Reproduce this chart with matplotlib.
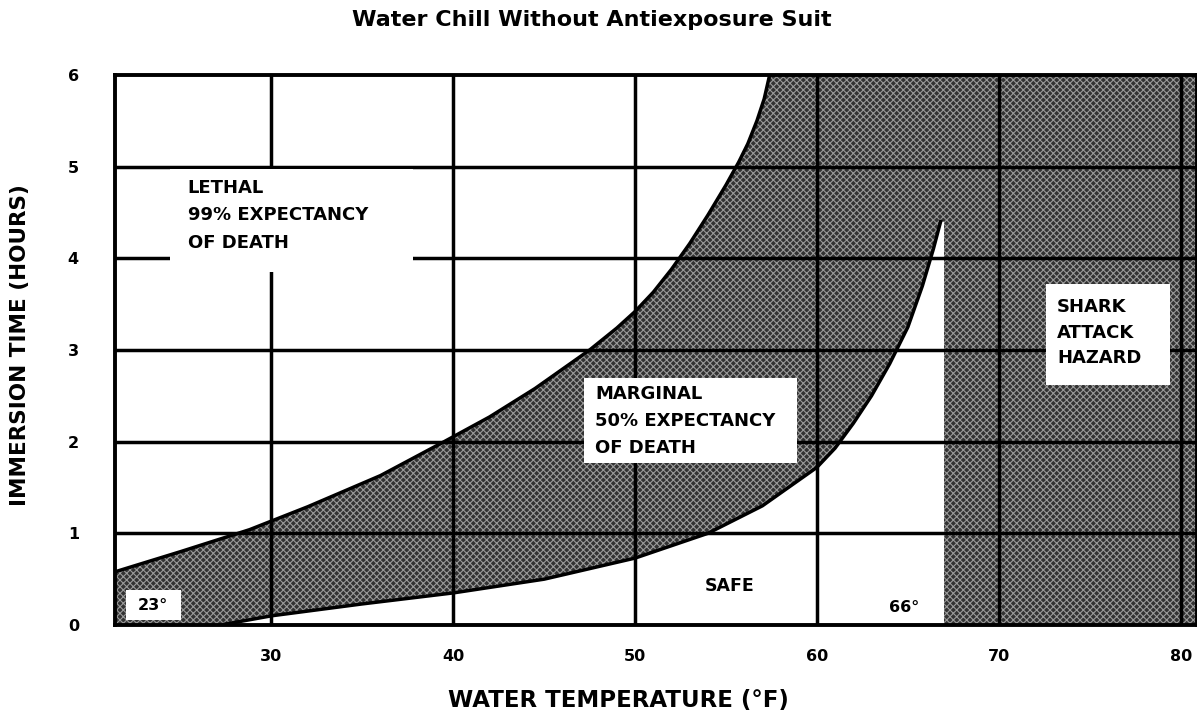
import matplotlib
matplotlib.use("Agg")
import matplotlib.pyplot as plt
import numpy as np
from matplotlib.patches import Rectangle

plt.rcParams['font.family'] = ['DejaVu Sans']
plt.rcParams['hatch.linewidth'] = 0.8

# --- data ---
x_ticks = [30, 40, 50, 60, 70, 80]
y_ticks = [0, 1, 2, 3, 4, 5, 6]

# Lethal boundary (upper-left curve): water temp (F) vs hours
lethal_temp = [21.4, 25, 28.8, 32, 36, 39.5, 42, 44.5, 47.5, 49, 50, 51, 52, 53, 54, 55,
               55.7, 56.2, 56.7, 57.1, 57.4]
lethal_hours = [0.58, 0.80, 1.04, 1.29, 1.63, 2.0, 2.27, 2.58, 3.0, 3.24, 3.42, 3.63, 3.88, 4.16,
                4.47, 4.8, 5.05, 5.25, 5.5, 5.74, 6.0]

# Marginal / safe boundary (lower-right curve)
safe_temp = [27.2, 30, 35, 40, 45, 50, 54, 57, 60, 61, 62, 63, 64, 65, 65.8, 66.4, 66.8]
safe_hours = [0.0, 0.10, 0.23, 0.35, 0.50, 0.73, 1.0, 1.3, 1.72, 1.93, 2.2, 2.5, 2.85, 3.25, 3.7, 4.1, 4.4]

shark_temp = 67.0
x_min, x_max = 21.4, 80.9
y_min, y_max = 0, 6

fig = plt.figure(figsize=(11.97, 7.18), dpi=100)
ax = fig.add_axes([115/1197, 93/718, 1082/1197, 550/718])
ax.set_xlim(x_min, x_max)
ax.set_ylim(y_min, y_max)

shade_face = '#333333'
shade_hatch = '#9a9a9a'

# marginal region polygon
poly_x = np.concatenate([[x_min], lethal_temp, [shark_temp, shark_temp], safe_temp[::-1], [x_min]])
poly_y = np.concatenate([[0], lethal_hours, [y_max, safe_hours[-1]], safe_hours[::-1], [0]])
ax.fill(poly_x, poly_y, facecolor=shade_face, edgecolor=shade_hatch, hatch='xxxxx', lw=0, zorder=1)
# shark attack hazard region
ax.axvspan(shark_temp, x_max, facecolor=shade_face, edgecolor=shade_hatch, hatch='xxxxx', lw=0, zorder=1)

# curve outlines
ax.plot(lethal_temp, lethal_hours, color='black', lw=2.5, zorder=3, solid_joinstyle='round')
ax.plot(safe_temp, safe_hours, color='black', lw=2.5, zorder=3, solid_joinstyle='round')

# grid
for xv in x_ticks:
    ax.axvline(xv, color='black', lw=2.5, zorder=2)
for yv in y_ticks[1:-1]:
    ax.axhline(yv, color='black', lw=2.5, zorder=2)

for s in ax.spines.values():
    s.set_linewidth(2.8)
    s.set_zorder(5)

ax.set_xticks(x_ticks)
ax.set_yticks(y_ticks)
ax.tick_params(length=0, labelsize=11.5)
ax.tick_params(axis='x', pad=17)
ax.tick_params(axis='y', pad=26)
for lab in ax.get_xticklabels() + ax.get_yticklabels():
    lab.set_fontweight('bold')

# white label boxes
def white_box(x0, y0, x1, y1):
    ax.add_patch(Rectangle((x0, y0), x1 - x0, y1 - y0, facecolor='white',
                           edgecolor='none', zorder=4))

white_box(24.4, 3.85, 37.76, 4.97)
white_box(47.2, 1.77, 58.9, 2.70)
white_box(72.6, 2.62, 79.4, 3.72)
white_box(22.0, 0.05, 25.05, 0.38)

tkw = dict(fontweight='bold', fontsize=13, zorder=6, va='center', ha='left')
ax.text(25.4, 4.77, 'LETHAL', **tkw)
ax.text(25.4, 4.47, '99% EXPECTANCY', **tkw)
ax.text(25.4, 4.17, 'OF DEATH', **tkw)

ax.text(47.8, 2.52, 'MARGINAL', **tkw)
ax.text(47.8, 2.22, '50% EXPECTANCY', **tkw)
ax.text(47.8, 1.93, 'OF DEATH', **tkw)

ax.text(73.2, 3.47, 'SHARK', **tkw)
ax.text(73.2, 3.19, 'ATTACK', **tkw)
ax.text(73.2, 2.91, 'HAZARD', **tkw)

ax.text(23.5, 0.21, '23°', fontweight='bold', fontsize=11.5, zorder=6, va='center', ha='center')
ax.text(55.2, 0.43, 'SAFE', fontweight='bold', fontsize=12.5, zorder=6, va='center', ha='center')
ax.text(64.8, 0.19, '66°', fontweight='bold', fontsize=11.5, zorder=6, va='center', ha='center')

fig.text(592/1197, 1 - 20/718, 'Water Chill Without Antiexposure Suit',
         fontweight='bold', fontsize=16, ha='center', va='center')
fig.text(618/1197, 1 - 700/718, 'WATER TEMPERATURE (°F)',
         fontweight='bold', fontsize=16.5, ha='center', va='center')
fig.text(20/1197, 1 - 345/718, 'IMMERSION TIME (HOURS)',
         fontweight='bold', fontsize=15.5, ha='center', va='center', rotation=90)

fig.savefig('out.png', dpi=100)
